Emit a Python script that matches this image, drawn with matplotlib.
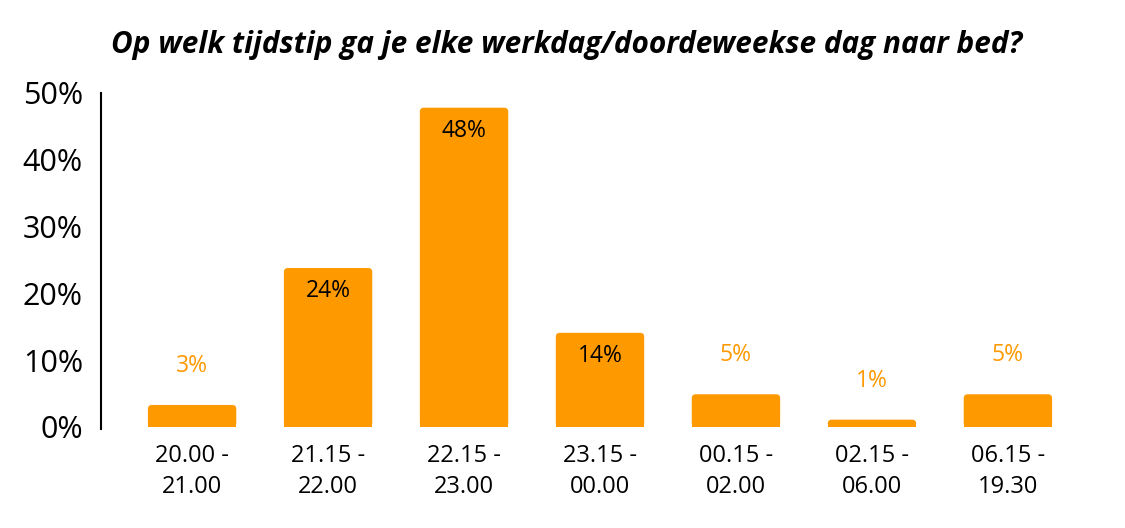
import matplotlib
matplotlib.use('Agg')
import matplotlib.pyplot as plt
from matplotlib.patches import FancyBboxPatch

categories = ['20.00 -\n21.00', '21.15 -\n22.00', '22.15 -\n23.00', '23.15 -\n00.00',
              '00.15 -\n02.00', '02.15 -\n06.00', '06.15 -\n19.30']
values = [3.3, 23.8, 47.8, 14.1, 4.9, 1.1, 4.9]
value_labels = ['3%', '24%', '48%', '14%', '5%', '1%', '5%']
inside = [False, True, True, True, False, False, False]

ORANGE = '#FF9900'
plt.rcParams['font.family'] = ['Open Sans', 'DejaVu Sans']

fig = plt.figure(figsize=(11.25, 5.28), dpi=100)
ax = fig.add_axes([101 / 1125, 1 - 427 / 528, 998 / 1125, 334 / 528])
ax.set_xlim(-0.67, 6.67)
ax.set_ylim(0, 50)

x = list(range(len(categories)))
bars = ax.bar(x, values, width=0.65, color=ORANGE, linewidth=0)

# rounded top corners: radius in pixels converted to data units
r_px = 4
x_scale = ax.bbox.width / (ax.get_xlim()[1] - ax.get_xlim()[0])
y_scale = ax.bbox.height / (ax.get_ylim()[1] - ax.get_ylim()[0])
rx, ry = r_px / x_scale, r_px / y_scale
for b in bars:
    bx, bw, bh = b.get_x(), b.get_width(), b.get_height()
    ax.add_patch(FancyBboxPatch((bx, 0), bw, bh,
                                boxstyle=f'round,pad=0,rounding_size={rx}',
                                mutation_aspect=ry / rx,
                                facecolor=ORANGE, linewidth=0))
    b.set_height(max(bh - ry, 0))

for xi, v, lab, ins in zip(x, values, value_labels, inside):
    if ins:
        ax.annotate(lab, (xi, v), xytext=(0, -23), textcoords='offset pixels',
                    ha='center', va='center', fontsize=16.5, color='black')
    else:
        ax.annotate(lab, (xi, v), xytext=(0, 39), textcoords='offset pixels',
                    ha='center', va='center', fontsize=16.5, color=ORANGE)

ax.set_yticks([0, 10, 20, 30, 40, 50])
ax.set_yticklabels(['0%', '10%', '20%', '30%', '40%', '50%'], fontsize=22)
ax.set_xticks(x)
ax.set_xticklabels(categories, fontsize=17, linespacing=1.42)
ax.tick_params(axis='y', length=0, pad=13)
ax.tick_params(axis='x', length=0, pad=12)

for s in ['top', 'right', 'bottom']:
    ax.spines[s].set_visible(False)
ax.spines['left'].set_linewidth(1.5)
ax.spines['left'].set_bounds(-0.3, 50)

fig.text(567 / 1125, 1 - 45 / 528, 'Op welk tijdstip ga je elke werkdag/doordeweekse dag naar bed?',
         ha='center', va='center', fontsize=21.4, fontweight='bold', fontstyle='italic')

fig.savefig('out.png', dpi=100)
